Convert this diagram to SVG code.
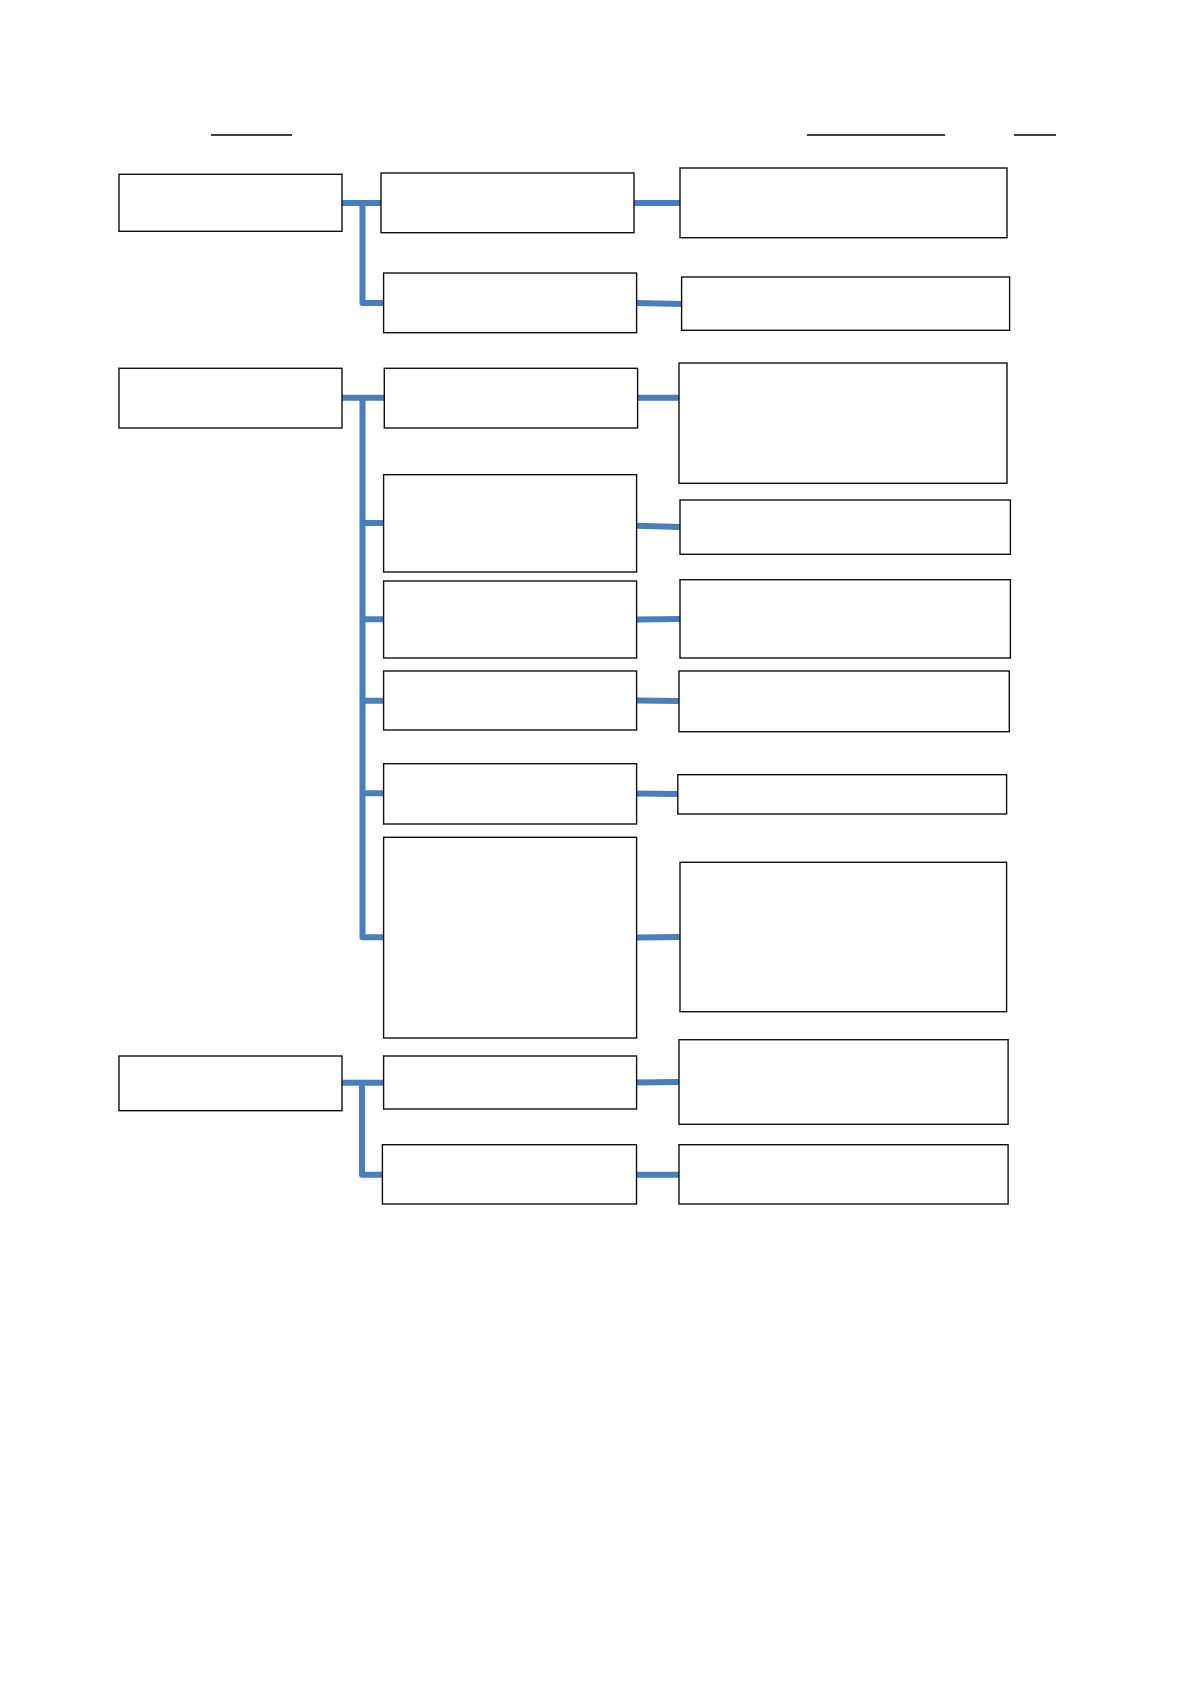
<svg xmlns="http://www.w3.org/2000/svg" width="1192" height="1685" viewBox="0 0 1192 1685">
<style>
.box{fill:#fff;stroke:#111;stroke-width:1.4}
.c{fill:none;stroke:#4a7ebb;stroke-width:6;stroke-linejoin:round;stroke-linecap:butt}
.u{stroke:#000;stroke-width:1.3}
</style>
<rect width="1192" height="1685" fill="#fff"/>
<g id="underlines">
<line class="u" x1="211" y1="135" x2="292" y2="135"/>
<line class="u" x1="807" y1="135" x2="945" y2="135"/>
<line class="u" x1="1014" y1="135" x2="1056" y2="135"/>
</g>
<g id="connectors">
<path class="c" d="M342 203 H381 M362.5 203 V303 H384"/>
<path class="c" d="M634 203 H680"/>
<path class="c" d="M637 303 L682 304"/>
<path class="c" d="M342 397.7 H384 M362.5 397.7 V937.3 H384 M362.5 523 H384 M362.5 619.3 H384 M362.5 700.7 H384 M362.5 793.3 H384"/>
<path class="c" d="M637.6 397.7 H679"/>
<path class="c" d="M637 525.7 L680 527"/>
<path class="c" d="M637 619.5 L680 619"/>
<path class="c" d="M637 700.5 L679 701"/>
<path class="c" d="M637 793.5 L678 794"/>
<path class="c" d="M637 937.5 L680 937"/>
<path class="c" d="M342 1082.7 H384 M362 1082.7 V1174.7 H383"/>
<path class="c" d="M637 1082.5 L679 1082"/>
<path class="c" d="M637 1174.7 H679"/>
</g>
<g id="L1"><rect class="box" x="119" y="174.3" width="223" height="57"/></g>
<g id="M1"><rect class="box" x="381" y="173" width="253" height="59.7"/></g>
<g id="R1"><rect class="box" x="680" y="168" width="327" height="69.7"/></g>
<g id="M2"><rect class="box" x="383.6" y="273" width="253" height="59.7"/></g>
<g id="R2"><rect class="box" x="681.6" y="277" width="328" height="53.3"/></g>
<g id="L2"><rect class="box" x="119" y="368.3" width="223" height="59.7"/></g>
<g id="M3"><rect class="box" x="384.3" y="368.3" width="253.3" height="59.7"/></g>
<g id="R3"><rect class="box" x="679" y="363" width="328" height="120.3"/></g>
<g id="M4"><rect class="box" x="383.6" y="474.7" width="253" height="97.3"/></g>
<g id="R4"><rect class="box" x="680" y="500" width="330.4" height="54.3"/></g>
<g id="M5"><rect class="box" x="383.6" y="581" width="253" height="77"/></g>
<g id="R5"><rect class="box" x="680" y="579.7" width="330.4" height="78.3"/></g>
<g id="M6"><rect class="box" x="383.6" y="671" width="253" height="59"/></g>
<g id="R6"><rect class="box" x="679" y="671" width="330.3" height="60.7"/></g>
<g id="M7"><rect class="box" x="383.6" y="763.7" width="253" height="60.3"/></g>
<g id="R7"><rect class="box" x="677.8" y="774.7" width="328.8" height="39.3"/></g>
<g id="M8"><rect class="box" x="383.6" y="837.3" width="253" height="200.7"/></g>
<g id="R8"><rect class="box" x="680" y="862.3" width="326.6" height="149.4"/></g>
<g id="L3"><rect class="box" x="119" y="1056" width="223" height="54.7"/></g>
<g id="M9"><rect class="box" x="383.6" y="1056" width="253" height="53"/></g>
<g id="R9"><rect class="box" x="679" y="1039.7" width="329.1" height="84.6"/></g>
<g id="M10"><rect class="box" x="382.4" y="1144.7" width="254.1" height="59.3"/></g>
<g id="R10"><rect class="box" x="679" y="1144.7" width="329.1" height="59.3"/></g>
</svg>
